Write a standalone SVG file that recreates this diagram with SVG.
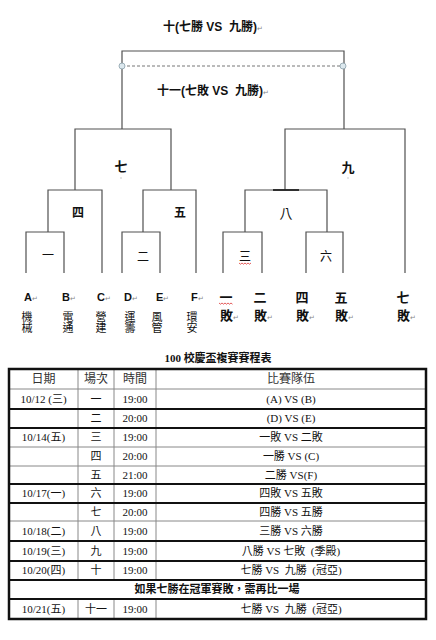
<svg xmlns="http://www.w3.org/2000/svg" width="436" height="640" viewBox="0 0 436 640">
<style>
.ln{fill:none;stroke:#505050;stroke-width:1.2}
.t{font-family:"Liberation Sans","Noto Sans CJK TC",sans-serif;fill:#111}
.b{font-weight:bold}
.m{fill:#888;font-size:7px;font-weight:normal}
.s{font-family:"Liberation Serif","Noto Sans CJK TC",serif;fill:#111;font-size:11px;text-anchor:middle}
.h{font-family:"Noto Sans CJK TC",sans-serif;fill:#333;font-size:12px;text-anchor:middle}
.c{text-anchor:middle}
.tl{stroke:#888;stroke-width:1;fill:none}
.tk{stroke:#111;stroke-width:2;fill:none}
.sq{fill:none;stroke:#d33;stroke-width:0.8}
</style>
<rect width="436" height="640" fill="#fff"/>
<g id="connectors">
<path class="ln" d="M122,129 V51 H344 V129"/>
<line x1="122" y1="66" x2="343" y2="66" stroke="#777" stroke-width="1" stroke-dasharray="3,2"/>
<circle cx="122" cy="66" r="3" fill="#dce8ee" stroke="#8aa0aa" stroke-width="0.8"/>
<circle cx="343" cy="66" r="3" fill="#dce8ee" stroke="#8aa0aa" stroke-width="0.8"/>
<path class="ln" d="M75,190 V129 H171 V190"/>
<path class="ln" d="M285,190 V129 H405 V273"/>
<path class="ln" d="M48,232 V190 H102 V273"/>
<path class="ln" d="M143,232 V190 H196 V273"/>
<path class="ln" d="M26,273 V232 H64 V273"/>
<path class="ln" d="M122,273 V232 H160 V273"/>
<path class="ln" d="M245,232 V190 H327 V232"/>
<line x1="273" y1="190" x2="299" y2="190" stroke="#222" stroke-width="1.8"/>
<path class="ln" d="M223,273 V232 H262 V273"/>
<path class="ln" d="M306,273 V232 H343 V273"/>
</g>
<g id="n-final">
<text class="t b c" x="213" y="31" font-size="12" xml:space="preserve">十(七勝 VS  九勝)<tspan class="m">↵</tspan></text>
</g>
<g id="n-final2">
<text class="t b c" x="213" y="95" font-size="12" xml:space="preserve">十一(七敗 VS  九勝)<tspan class="m">↵</tspan></text>
</g>
<g id="n7"><text class="t b c" x="121" y="171" font-size="13">七</text><rect x="120.5" y="177.5" width="1" height="1" fill="#999"/></g>
<g id="n9"><text class="t b c" x="348" y="172" font-size="13">九</text><rect x="347.5" y="177.5" width="1" height="1" fill="#999"/></g>
<g id="n4"><text class="t b c" x="78" y="217" font-size="12">四</text></g>
<g id="n5"><text class="t b c" x="180" y="217" font-size="12">五</text></g>
<g id="n8"><text class="t c" x="286" y="218" font-size="13">八</text></g>
<g id="n1"><text class="t c" x="48" y="260" font-size="12">一</text></g>
<g id="n2"><text class="t c" x="143" y="261" font-size="12">二</text></g>
<g id="n3"><text class="t c" x="245" y="261" font-size="12">三</text><path class="sq" d="M239,263 l1.5,1.2 l1.5,-1.2 l1.5,1.2 l1.5,-1.2 l1.5,1.2 l1.5,-1.2 l1.5,1.2 l1.5,-1.2"/></g>
<g id="n6"><text class="t c" x="326" y="261" font-size="12">六</text></g>
<g id="leaves">
<text class="t b" x="24" y="301" font-size="11">A<tspan class="m">↵</tspan></text>
<text class="t b" x="62" y="301" font-size="11">B<tspan class="m">↵</tspan></text>
<text class="t b" x="97" y="301" font-size="11">C<tspan class="m">↵</tspan></text>
<text class="t b" x="124" y="301" font-size="11">D<tspan class="m">↵</tspan></text>
<text class="t b" x="156" y="301" font-size="11">E<tspan class="m">↵</tspan></text>
<text class="t b" x="191" y="301" font-size="11">F<tspan class="m">↵</tspan></text>
<g font-size="11">
<text class="t c" x="27" y="321">機</text><text class="t c" x="27" y="332">械</text>
<text class="t c" x="68" y="321">電</text><text class="t c" x="68" y="332">通</text>
<text class="t c" x="101" y="321">營</text><text class="t c" x="101" y="332">建</text>
<text class="t c" x="130" y="321">運</text><text class="t c" x="130" y="332">籌</text>
<text class="t c" x="157" y="321">風</text><text class="t c" x="157" y="332">管</text>
<text class="t c" x="192" y="321">環</text><text class="t c" x="192" y="332">安</text>
</g>
<g font-size="13" font-weight="bold">
<text class="t c" x="226" y="302">一</text><path class="sq" d="M219,303 l1.5,1.2 l1.5,-1.2 l1.5,1.2 l1.5,-1.2 l1.5,1.2 l1.5,-1.2 l1.5,1.2 l1.5,-1.2 l1.5,1.2"/>
<text class="t" x="220" y="320">敗<tspan class="m">↵</tspan></text>
<text class="t c" x="260" y="302">二</text>
<text class="t" x="254" y="320">敗<tspan class="m">↵</tspan></text>
<text class="t c" x="302" y="302">四</text>
<text class="t" x="296" y="320">敗<tspan class="m">↵</tspan></text>
<text class="t c" x="341" y="302">五</text>
<text class="t" x="335" y="320">敗<tspan class="m">↵</tspan></text>
<text class="t c" x="403" y="302">七</text>
<text class="t" x="397" y="320">敗<tspan class="m">↵</tspan></text>
</g>
</g>
<g id="schedule">
<text class="s" x="218" y="362" font-weight="bold" font-size="11.5">100 校慶盃複賽賽程表</text>
<g>
<line class="tl" x1="78" y1="369" x2="78" y2="580"/>
<line class="tl" x1="114" y1="369" x2="114" y2="580"/>
<line class="tl" x1="156" y1="369" x2="156" y2="580"/>
<line class="tl" x1="78" y1="599" x2="78" y2="619"/>
<line class="tl" x1="114" y1="599" x2="114" y2="619"/>
<line class="tl" x1="156" y1="599" x2="156" y2="619"/>
<line class="tl" x1="9" y1="389" x2="426" y2="389"/>
<line class="tk" x1="9" y1="409" x2="426" y2="409"/>
<line class="tk" x1="9" y1="428" x2="426" y2="428"/>
<line class="tl" x1="9" y1="447" x2="426" y2="447"/>
<line class="tl" x1="9" y1="466" x2="426" y2="466"/>
<line class="tk" x1="9" y1="484" x2="426" y2="484"/>
<line class="tk" x1="9" y1="503" x2="426" y2="503"/>
<line class="tl" x1="9" y1="521" x2="426" y2="521"/>
<line class="tk" x1="9" y1="541" x2="426" y2="541"/>
<line class="tk" x1="9" y1="561" x2="426" y2="561"/>
<line class="tk" x1="9" y1="580" x2="426" y2="580"/>
<line class="tk" x1="9" y1="599" x2="426" y2="599"/>
<rect x="9" y="369" width="417" height="250" fill="none" stroke="#111" stroke-width="2.5"/>
</g>
<text class="h" x="43.5" y="383">日期</text>
<text class="h" x="96" y="383">場次</text>
<text class="h" x="135" y="383">時間</text>
<text class="h" x="291" y="383">比賽隊伍</text>

<text class="s" x="43.5" y="403">10/12 (三)</text><text class="s" x="96" y="403">一</text><text class="s" x="135" y="403">19:00</text><text class="s" x="291" y="403">(A) VS (B)</text>
<text class="s" x="96" y="422">二</text><text class="s" x="135" y="422">20:00</text><text class="s" x="291" y="422">(D) VS (E)</text>
<text class="s" x="43.5" y="441">10/14(五)</text><text class="s" x="96" y="441">三</text><text class="s" x="135" y="441">19:00</text><text class="s" x="291" y="441">一敗 VS 二敗</text>
<text class="s" x="96" y="460">四</text><text class="s" x="135" y="460">20:00</text><text class="s" x="291" y="460">一勝 VS (C)</text>
<text class="s" x="96" y="479">五</text><text class="s" x="135" y="479">21:00</text><text class="s" x="291" y="479">二勝 VS(F)</text>
<text class="s" x="43.5" y="497">10/17(一)</text><text class="s" x="96" y="497">六</text><text class="s" x="135" y="497">19:00</text><text class="s" x="291" y="497">四敗 VS 五敗</text>
<text class="s" x="96" y="516">七</text><text class="s" x="135" y="516">20:00</text><text class="s" x="291" y="516">四勝 VS 五勝</text>
<text class="s" x="43.5" y="535">10/18(二)</text><text class="s" x="96" y="535">八</text><text class="s" x="135" y="535">19:00</text><text class="s" x="291" y="535">三勝 VS 六勝</text>
<text class="s" x="43.5" y="555">10/19(三)</text><text class="s" x="96" y="555">九</text><text class="s" x="135" y="555">19:00</text><text class="s" x="291" y="555" xml:space="preserve">八勝 VS 七敗  (季殿)</text>
<text class="s" x="43.5" y="574">10/20(四)</text><text class="s" x="96" y="574">十</text><text class="s" x="135" y="574">19:00</text><text class="s" x="291" y="574" xml:space="preserve">七勝 VS  九勝  (冠亞)</text>
<text class="s" x="217" y="593" font-weight="bold">如果七勝在冠軍賽敗，需再比一場</text>
<text class="s" x="43.5" y="613">10/21(五)</text><text class="s" x="96" y="613">十一</text><text class="s" x="135" y="613">19:00</text><text class="s" x="291" y="613" xml:space="preserve">七勝 VS  九勝  (冠亞)</text>
</g>
</svg>
